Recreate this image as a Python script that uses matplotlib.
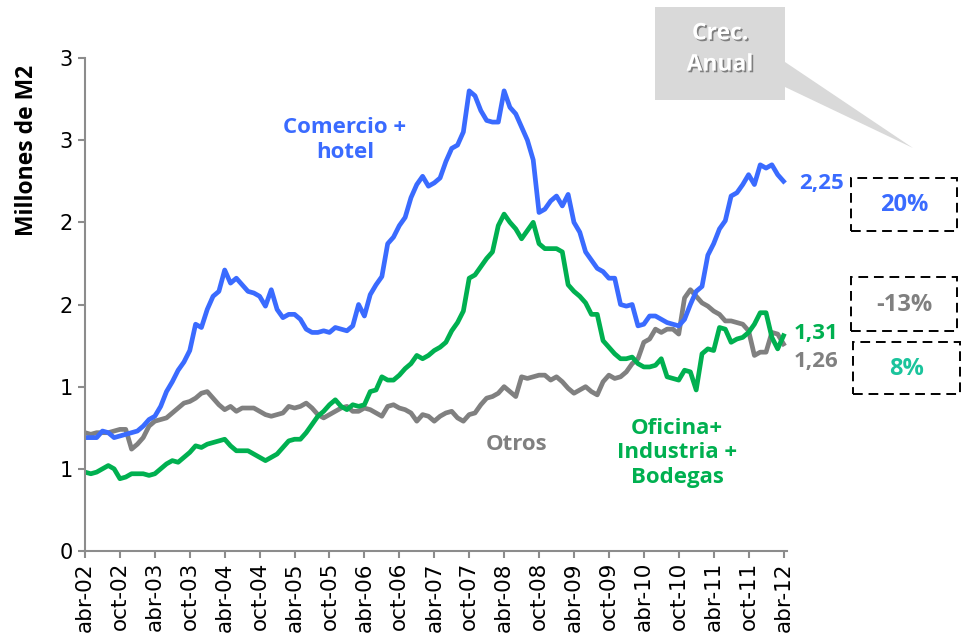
import matplotlib
matplotlib.use('Agg')
import matplotlib.pyplot as plt
import matplotlib.patches as patches
import matplotlib.patheffects as pe
import numpy as np

# monthly series, abr-02 .. abr-12 (millones de m2)
comercio = [0.69, 0.69, 0.69, 0.73, 0.72, 0.69, 0.70, 0.71, 0.72, 0.73,
            0.76, 0.80, 0.82, 0.88, 0.97, 1.03, 1.10, 1.15, 1.22, 1.38,
            1.36, 1.47, 1.55, 1.58, 1.71, 1.63, 1.66, 1.62, 1.58, 1.57,
            1.55, 1.49, 1.59, 1.47, 1.42, 1.44, 1.44, 1.41, 1.35, 1.33,
            1.33, 1.34, 1.33, 1.36, 1.35, 1.34, 1.37, 1.50, 1.43, 1.56,
            1.62, 1.67, 1.87, 1.91, 1.98, 2.03, 2.15, 2.23, 2.28, 2.22,
            2.24, 2.27, 2.37, 2.45, 2.47, 2.55, 2.80, 2.77, 2.68, 2.62,
            2.61, 2.61, 2.80, 2.70, 2.66, 2.58, 2.50, 2.38, 2.06, 2.08,
            2.13, 2.16, 2.10, 2.17, 2.00, 1.94, 1.82, 1.77, 1.72, 1.70,
            1.66, 1.66, 1.50, 1.49, 1.50, 1.37, 1.38, 1.43, 1.43, 1.41,
            1.39, 1.38, 1.37, 1.41, 1.50, 1.58, 1.61, 1.80, 1.87, 1.96,
            2.01, 2.16, 2.18, 2.23, 2.29, 2.23, 2.35, 2.33, 2.35, 2.29,
            2.25]
oficina = [0.48, 0.47, 0.48, 0.50, 0.52, 0.50, 0.44, 0.45, 0.47, 0.47,
           0.47, 0.46, 0.47, 0.50, 0.53, 0.55, 0.54, 0.57, 0.60, 0.64,
           0.63, 0.65, 0.66, 0.67, 0.68, 0.64, 0.61, 0.61, 0.61, 0.59,
           0.57, 0.55, 0.57, 0.59, 0.63, 0.67, 0.68, 0.68, 0.72, 0.77,
           0.82, 0.85, 0.89, 0.92, 0.88, 0.86, 0.89, 0.88, 0.89, 0.97,
           0.98, 1.06, 1.04, 1.04, 1.07, 1.11, 1.14, 1.19, 1.17, 1.19,
           1.22, 1.24, 1.27, 1.34, 1.39, 1.46, 1.66, 1.68, 1.73, 1.78,
           1.82, 1.98, 2.05, 2.00, 1.96, 1.90, 1.95, 2.00, 1.87, 1.84,
           1.84, 1.84, 1.82, 1.62, 1.58, 1.55, 1.51, 1.44, 1.44, 1.28,
           1.24, 1.20, 1.17, 1.17, 1.18, 1.14, 1.12, 1.12, 1.13, 1.17,
           1.06, 1.05, 1.04, 1.10, 1.09, 0.98, 1.20, 1.23, 1.22, 1.36,
           1.35, 1.27, 1.29, 1.30, 1.33, 1.38, 1.45, 1.45, 1.30, 1.23,
           1.31]
otros = [0.72, 0.71, 0.72, 0.72, 0.72, 0.73, 0.74, 0.74, 0.62, 0.65,
         0.69, 0.76, 0.79, 0.80, 0.81, 0.84, 0.87, 0.90, 0.91, 0.93,
         0.96, 0.97, 0.93, 0.89, 0.86, 0.88, 0.85, 0.87, 0.87, 0.87,
         0.85, 0.83, 0.82, 0.83, 0.84, 0.88, 0.87, 0.88, 0.90, 0.87,
         0.83, 0.81, 0.83, 0.85, 0.87, 0.88, 0.85, 0.85, 0.87, 0.86,
         0.84, 0.82, 0.88, 0.89, 0.87, 0.86, 0.84, 0.79, 0.83, 0.82,
         0.79, 0.82, 0.84, 0.85, 0.81, 0.79, 0.83, 0.84, 0.89, 0.93,
         0.94, 0.96, 1.00, 0.97, 0.94, 1.06, 1.05, 1.06, 1.07, 1.07,
         1.04, 1.06, 1.03, 0.99, 0.96, 0.98, 1.00, 0.97, 0.95, 1.03,
         1.07, 1.05, 1.06, 1.09, 1.14, 1.17, 1.27, 1.29, 1.35, 1.33,
         1.35, 1.35, 1.32, 1.54, 1.59, 1.55, 1.51, 1.49, 1.46, 1.44,
         1.40, 1.40, 1.39, 1.38, 1.34, 1.19, 1.21, 1.21, 1.33, 1.32,
         1.26]

tick_labels = ['abr-02', 'oct-02', 'abr-03', 'oct-03', 'abr-04', 'oct-04',
               'abr-05', 'oct-05', 'abr-06', 'oct-06', 'abr-07', 'oct-07',
               'abr-08', 'oct-08', 'abr-09', 'oct-09', 'abr-10', 'oct-10',
               'abr-11', 'oct-11', 'abr-12']
y_ticks = [0, 0.5, 1.0, 1.5, 2.0, 2.5, 3.0]
y_labels = ['0', '1', '1', '2', '2', '3', '3']

end_labels = ['2,25', '1,31', '1,26']
growth = ['20%', '-13%', '8%']

BLUE = '#3A6BFF'
GREEN = '#00B050'
GRAY = '#808080'
TEAL = '#1BC49C'
AXIS = '#8C8C8C'
BOLD = ['Open Sans', 'DejaVu Sans']

W, H = 961, 642
fig = plt.figure(figsize=(W / 100, H / 100), dpi=100)
ax = fig.add_axes([85 / W, 1 - 551 / H, (787 - 85) / W, (551 - 58) / H])


def px(x, y):
    return x / W, 1 - y / H


months = np.arange(len(comercio))
ax.plot(months, otros, color=GRAY, lw=3.4, solid_joinstyle='round')
ax.plot(months, oficina, color=GREEN, lw=3.4, solid_joinstyle='round')
ax.plot(months, comercio, color=BLUE, lw=3.4, solid_joinstyle='round')

ax.set_xlim(0, 120.6)
ax.set_ylim(0, 3.0)
ax.set_xticks(np.arange(0, 121, 6))
ax.set_xticklabels(tick_labels, rotation=90, fontsize=15.5,
                   family=['DejaVu Sans'])
ax.set_yticks(y_ticks)
ax.set_yticklabels(y_labels, fontsize=15,
                   family=['Liberation Sans Narrow', 'DejaVu Sans'])
for s in ['top', 'right']:
    ax.spines[s].set_visible(False)
for s in ['left', 'bottom']:
    ax.spines[s].set_color(AXIS)
    ax.spines[s].set_linewidth(1.5)
ax.tick_params(axis='both', color=AXIS, width=1.5, length=5, direction='out')
ax.tick_params(axis='x', pad=3)
ax.tick_params(axis='y', pad=4)

fig.text(*px(27, 150), 'Millones de M2', rotation=90, ha='center',
         va='center', fontsize=16.5, fontweight='bold', family=BOLD)

# series names
fig.text(*px(345, 140), 'Comercio +\nhotel', color=BLUE, ha='center',
         va='center', fontsize=16, fontweight='bold', family=BOLD,
         linespacing=1.3)
fig.text(*px(517, 444), 'Otros', color=GRAY, ha='center', va='center',
         fontsize=16, fontweight='bold', family=BOLD)
fig.text(*px(677, 453), 'Oficina+\nIndustria +\nBodegas', color=GREEN,
         ha='center', va='center', fontsize=16, fontweight='bold',
         family=BOLD, linespacing=1.22)

# last values
fig.text(*px(799, 183), end_labels[0], color=BLUE, ha='left', va='center',
         fontsize=16, fontweight='bold', family=BOLD)
fig.text(*px(794, 333), end_labels[1], color=GREEN, ha='left', va='center',
         fontsize=16, fontweight='bold', family=BOLD)
fig.text(*px(794, 362), end_labels[2], color=GRAY, ha='left', va='center',
         fontsize=16, fontweight='bold', family=BOLD)

# growth boxes
boxes = [(851, 178, 957, 231, BLUE), (851, 277, 957, 331, GRAY),
         (853, 342, 960, 394, TEAL)]
for (x0, y0, x1, y1, c), txt in zip(boxes, growth):
    r = patches.Rectangle(px(x0, y1), (x1 - x0) / W, (y1 - y0) / H,
                          transform=fig.transFigure, fill=False,
                          edgecolor='black', lw=1.4, linestyle=(0, (5, 3)))
    fig.patches.append(r)
    fig.text(*px((x0 + x1) / 2, (y0 + y1) / 2 + 1), txt, color=c,
             ha='center', va='center', fontsize=17, fontweight='bold',
             family=BOLD)

# callout
callout = [px(655, 7), px(785, 7), px(785, 62), px(913, 148), px(785, 87),
           px(785, 100), px(655, 100)]
fig.patches.append(patches.Polygon(callout, closed=True,
                                   transform=fig.transFigure,
                                   facecolor='#D9D9D9', edgecolor='none'))
fig.text(*px(720, 49), 'Crec.\nAnual', color='white', ha='center',
         va='center', fontsize=16.5, fontweight='bold', family=BOLD,
         linespacing=1.4,
         path_effects=[pe.SimplePatchShadow(offset=(1.2, -1.2),
                                            shadow_rgbFace='#444444',
                                            alpha=0.6), pe.Normal()])

fig.savefig('out.png', dpi=100)
